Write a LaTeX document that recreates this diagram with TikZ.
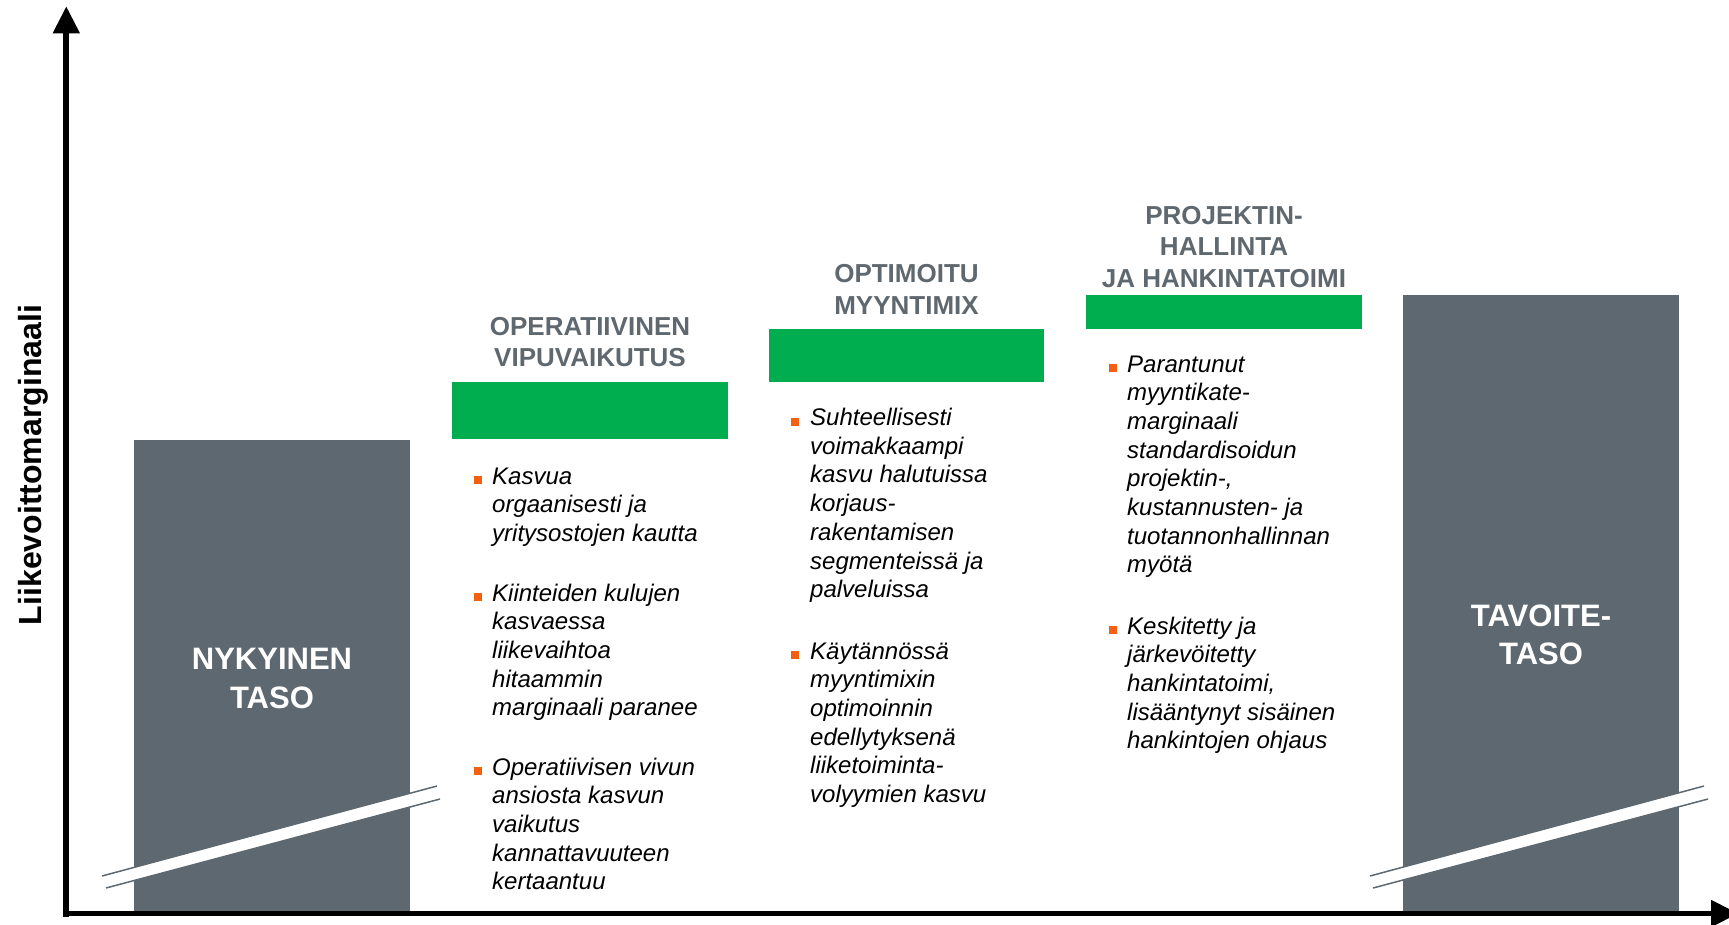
\documentclass[tikz,border=0pt]{standalone}
\usepackage{fontspec}
\setmainfont{Liberation Sans}
\definecolor{boxgray}{RGB}{93,104,112}
\definecolor{titlegray}{RGB}{95,104,111}
\definecolor{bargreen}{RGB}{0,174,80}
\definecolor{bulletorange}{RGB}{245,95,20}
\newcommand\bdfont{\fontsize{24}{28.7}\selectfont\itshape}
\newcommand\ttlfont{\fontsize{26}{31.5}\selectfont\bfseries}
\newcommand\lblfont{\fontsize{31}{38.5}\selectfont\bfseries}
\newcommand\ylfont{\fontsize{32}{38}\selectfont\bfseries}
\tikzset{
  block/.style={fill=boxgray, draw=none, inner sep=0, outer sep=0, anchor=north west, minimum width=276pt},
  greenbar/.style={fill=bargreen, draw=none, inner sep=0, outer sep=0, anchor=north west, minimum width=276pt},
  txt/.style={anchor=base west, inner sep=0, font=\bdfont},
  ttl/.style={anchor=base, inner sep=0, text=titlegray, font=\ttlfont},
  lbl/.style={anchor=base, inner sep=0, text=white, font=\lblfont},
  bul/.style={fill=bulletorange, draw=none, inner sep=0, outer sep=0, minimum size=8pt, anchor=south west},
  brk/.style={draw=boxgray, line width=1.5pt},
}
\begin{document}
\begin{tikzpicture}[x=1pt,y=-1pt]
\useasboundingbox (0,0) rectangle (1729,924);
\clip (0,0) rectangle (1729,924);
% level boxes
\node[block, minimum height=474pt] (now) at (134,439.5) {};
\node[block, minimum height=619pt] (goal) at (1403,295) {};
% green bars
\node[greenbar, minimum height=57pt] (bar1) at (452,382) {};
\node[greenbar, minimum height=52.7pt, minimum width=275pt] (bar2) at (769,329.3) {};
\node[greenbar, minimum height=34.8pt] (bar3) at (1086,294.5) {};
% break marks
\fill[white] (102,876) -- (437,786) -- (440,799) -- (106,888) -- cycle;
\draw[brk] (102,876) -- (437,786);
\draw[brk] (106,888) -- (440,799);
\fill[white] (1370,876) -- (1704,786) -- (1708,799) -- (1373,888) -- cycle;
\draw[brk] (1370,876) -- (1704,786);
\draw[brk] (1373,888) -- (1708,799);
% box labels
\node[lbl] (nowlbl) at (272,669.5) {\begin{tabular}[t]{@{}c@{}}NYKYINEN\\TASO\end{tabular}};
\node[lbl] (goallbl) at (1541,626) {\begin{tabular}[t]{@{}c@{}}TAVOITE-\\TASO\end{tabular}};
% titles
\node[ttl] (ttl1) at (590,366.7) {\begin{tabular}[b]{@{}c@{}}OPERATIIVINEN\\VIPUVAIKUTUS\end{tabular}};
\node[ttl] (ttl2) at (906.5,314) {\begin{tabular}[b]{@{}c@{}}OPTIMOITU\\MYYNTIMIX\end{tabular}};
\node[ttl] (ttl3) at (1224,287) {\begin{tabular}[b]{@{}c@{}}PROJEKTIN-\\HALLINTA\\JA HANKINTATOIMI\end{tabular}};
% column 1
\node[bul] (b1a) at (474,484) {};
\node[txt] (t1a) at (492,484) {\begin{tabular}[t]{@{}l@{}}Kasvua\\orgaanisesti ja\\yritysostojen kautta\end{tabular}};
\node[bul] (b1b) at (474,601) {};
\node[txt] (t1b) at (492,601) {\begin{tabular}[t]{@{}l@{}}Kiinteiden kulujen\\kasvaessa\\liikevaihtoa\\hitaammin\\marginaali paranee\end{tabular}};
\node[bul] (b1c) at (474,775) {};
\node[txt] (t1c) at (492,775) {\begin{tabular}[t]{@{}l@{}}Operatiivisen vivun\\ansiosta kasvun\\vaikutus\\kannattavuuteen\\kertaantuu\end{tabular}};
% column 2
\node[bul] (b2a) at (791,425.5) {};
\node[txt] (t2a) at (810,425.5) {\begin{tabular}[t]{@{}l@{}}Suhteellisesti\\voimakkaampi\\kasvu halutuissa\\korjaus-\\rakentamisen\\segmenteissä ja\\palveluissa\end{tabular}};
\node[bul] (b2b) at (791,659) {};
\node[txt] (t2b) at (810,659) {\begin{tabular}[t]{@{}l@{}}Käytännössä\\myyntimixin\\optimoinnin\\edellytyksenä\\liiketoiminta-\\volyymien kasvu\end{tabular}};
% column 3
\node[bul] (b3a) at (1109,372) {};
\node[txt] (t3a) at (1127,372) {\begin{tabular}[t]{@{}l@{}}Parantunut\\myyntikate-\\marginaali\\standardisoidun\\projektin-,\\kustannusten- ja\\tuotannonhallinnan\\myötä\end{tabular}};
\node[bul] (b3b) at (1109,634) {};
\node[txt] (t3b) at (1127,634) {\begin{tabular}[t]{@{}l@{}}Keskitetty ja\\järkevöitetty\\hankintatoimi,\\lisääntynyt sisäinen\\hankintojen ohjaus\end{tabular}};
% axes
\draw[line width=6pt] (66.3,30) -- (66.3,916.5);
\fill (66.3,6.7) -- (52.6,33.3) -- (80,33.3) -- cycle;
\draw[line width=5.5pt] (63.3,913.5) -- (1713,913.5);
\fill (1738,913.5) -- (1711,899.8) -- (1711,927.2) -- cycle;
% axis label
\node[rotate=90, anchor=base, inner sep=0, font=\ylfont] (ylabel) at (41,465) {Liikevoittomarginaali};
\end{tikzpicture}
\end{document}
